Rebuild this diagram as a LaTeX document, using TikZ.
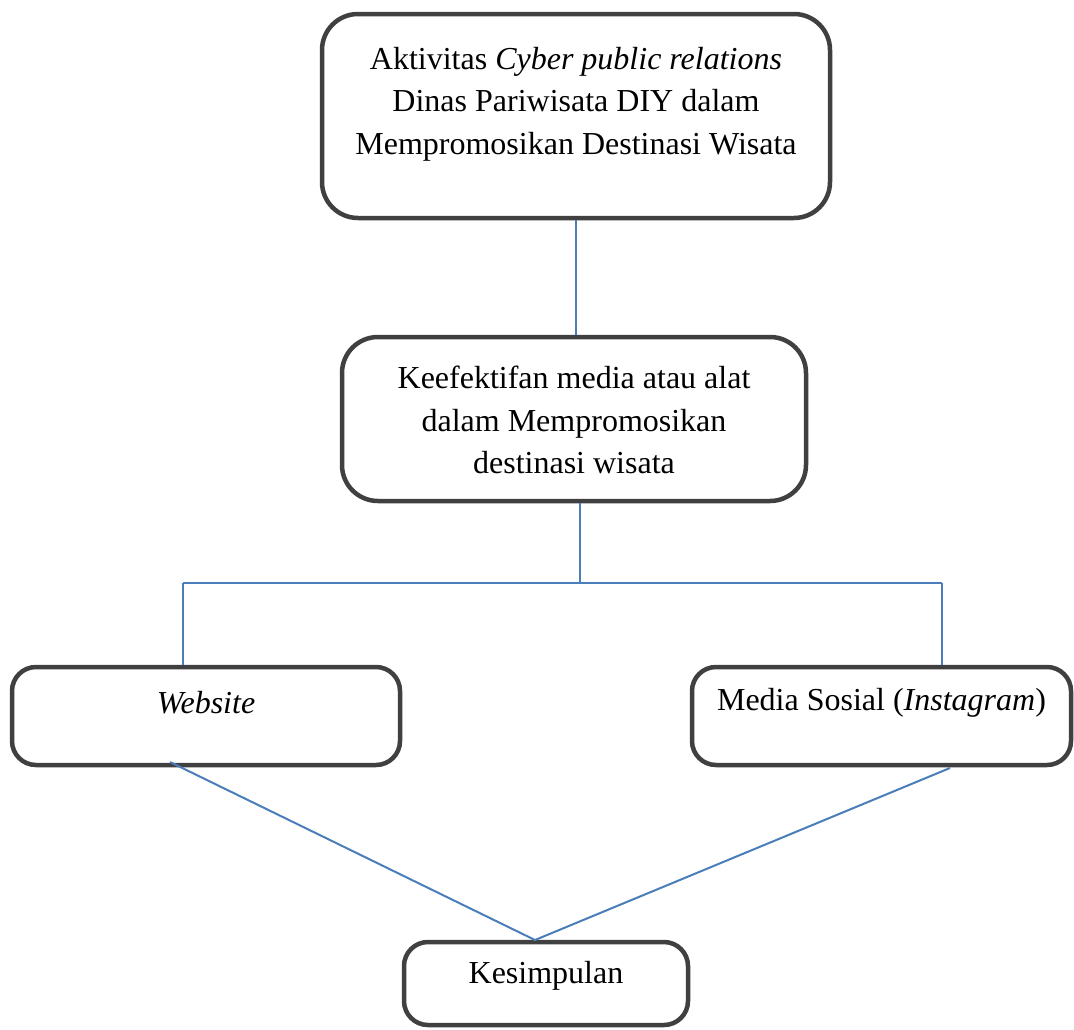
\documentclass[tikz,border=0pt]{standalone}
\usepackage{fontspec}
\setmainfont{Liberation Serif}
\definecolor{boxgray}{HTML}{404040}
\definecolor{connblue}{HTML}{4A7EBB}
\begin{document}
\begin{tikzpicture}[x=1pt,y=-1pt,
  box/.style={draw=boxgray, line width=4.5pt, inner sep=0pt, fill=white},
  bigbox/.style={box, rounded corners=36pt},
  smallbox/.style={box, rounded corners=24pt},
  conn/.style={draw=connblue, line width=2pt},
  txt/.style={font=\fontsize{32}{42.5}\selectfont, align=center, inner sep=0pt}]
\useasboundingbox[fill=white] (0,0) rectangle (1074,1029);
% boxes
\node[bigbox, minimum width=508pt, minimum height=204pt] (top) at (576,116) {};
\node[bigbox, minimum width=464pt, minimum height=164pt] (mid) at (574,419) {};
\node[smallbox, minimum width=388pt, minimum height=98pt] (left) at (206,716) {};
\node[smallbox, minimum width=379pt, minimum height=98pt] (right) at (881.5,716) {};
\node[smallbox, minimum width=284pt, minimum height=83pt] (bot) at (546,983.5) {};
% texts
\node[txt] (toptext) at (576,104) {Aktivitas \textit{Cyber public relations}\\Dinas Pariwisata DIY dalam\\Mempromosikan Destinasi Wisata};
\node[txt] (midtext) at (574,420) {Keefektifan media atau alat\\dalam Mempromosikan\\destinasi wisata};
\node[txt] (lefttext) at (206,703) {\textit{Website}};
\node[txt] (righttext) at (881.5,703) {Media Sosial (\textit{Instagram})};
\node[txt] (bottext) at (546,976) {Kesimpulan};
% connectors
\coordinate (j) at (580,583);
\coordinate (jl) at (183,583);
\coordinate (jr) at (942,583);
\coordinate (ls) at (170,762);
\coordinate (rs) at (950,768);
\coordinate (kt) at (535,940);
\draw[conn] (top.south) -- (top.south |- mid.north);
\draw[conn] (mid.south -| j) -- (j);
\draw[conn] (jl) -- (jr);
\draw[conn] (jl) -- (jl |- left.north);
\draw[conn] (jr) -- (jr |- right.north);
\draw[conn] (ls) -- (kt) -- (rs);
\end{tikzpicture}
\end{document}
